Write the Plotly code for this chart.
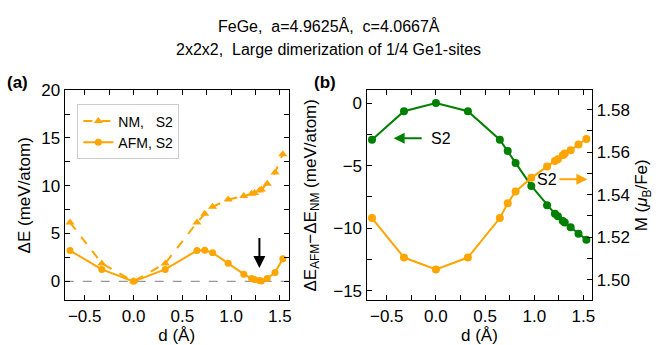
import plotly.graph_objects as go

# ---------------- data ----------------
d = [-0.65, -0.325, 0.0, 0.325, 0.65, 0.73, 0.81, 0.97, 1.13, 1.21, 1.24, 1.29, 1.31, 1.37, 1.45, 1.53]
dE_NM = [6.15, 1.88, 0.0, 1.88, 6.15, 7.07, 7.8, 8.55, 8.92, 9.15, 9.25, 9.5, 9.6, 10.22, 11.38, 13.3]
dE_AFM = [3.22, 1.25, 0.0, 1.25, 3.22, 3.25, 3.0, 1.9, 0.75, 0.3, 0.2, 0.08, 0.05, 0.3, 0.92, 2.37]
dE_diff = [-2.93, -0.65, 0.0, -0.65, -2.93, -3.82, -4.78, -6.62, -8.17, -8.85, -9.05, -9.42, -9.55, -9.92, -10.45, -10.93]
M_AFM = [1.529, 1.5104, 1.5048, 1.5104, 1.529, 1.536, 1.5415, 1.5479, 1.5532, 1.5558, 1.5567, 1.5586, 1.5594, 1.5609, 1.5636, 1.5662]

title_lines = ["FeGe,\u00a0 a=4.9625Å,\u00a0 c=4.0667Å", "2x2x2,\u00a0 Large dimerization of 1/4 Ge1-sites"]
x_ticks = [-0.5, 0.0, 0.5, 1.0, 1.5]
x_ticktext = ["\u22120.5", "0.0", "0.5", "1.0", "1.5"]
ya_ticks = [0, 5, 10, 15, 20]
yb_ticks = [0, -5, -10, -15]
yb_ticktext = ["0", "\u22125", "\u221210", "\u221215"]
m_ticks = [1.50, 1.52, 1.54, 1.56, 1.58]
m_ticktext = ["1.50", "1.52", "1.54", "1.56", "1.58"]

ORANGE = "#FFA500"
GREEN = "#008000"
FONT = "Liberation Sans, Arial, Helvetica, sans-serif"
TICK = 17
TITLE = 17

fig = go.Figure()

# panel (a)
fig.add_trace(go.Scatter(x=d, y=dE_NM, mode="lines+markers", name="NM,\u00a0\u00a0\u00a0S2",
                         line=dict(color=ORANGE, width=2, dash="dash"),
                         marker=dict(symbol="triangle-up", size=8, color=ORANGE),
                         xaxis="x", yaxis="y"))
fig.add_trace(go.Scatter(x=d, y=dE_AFM, mode="lines+markers", name="AFM, S2",
                         line=dict(color=ORANGE, width=2),
                         marker=dict(symbol="circle", size=7, color=ORANGE),
                         xaxis="x", yaxis="y"))
# panel (b)
fig.add_trace(go.Scatter(x=d, y=dE_diff, mode="lines+markers", showlegend=False,
                         line=dict(color=GREEN, width=2),
                         marker=dict(symbol="circle", size=8, color=GREEN),
                         xaxis="x2", yaxis="y2"))
fig.add_trace(go.Scatter(x=d, y=M_AFM, mode="lines+markers", showlegend=False,
                         line=dict(color=ORANGE, width=2),
                         marker=dict(symbol="circle", size=8, color=ORANGE),
                         xaxis="x2", yaxis="y3"))

xr = [-0.705, 1.59]
ydom = [0.1325, 0.7586]
axis_common = dict(showline=True, linecolor="black", linewidth=1.3, ticks="inside",
                   ticklen=5, tickwidth=1.2, tickcolor="black", showgrid=False, zeroline=False,
                   tickfont=dict(size=TICK, color="black", family=FONT))

fig.update_layout(
    width=660, height=345,
    margin=dict(l=0, r=0, t=0, b=0),
    paper_bgcolor="white", plot_bgcolor="white",
    font=dict(family=FONT, color="black", size=15),
    xaxis=dict(domain=[0.0985, 0.4394], range=xr, anchor="y", mirror="allticks",
               tickvals=x_ticks, ticktext=x_ticktext,
               minor=dict(dtick=0.25, tick0=0, ticks="inside", ticklen=5, tickcolor="black"),
               title=dict(text="d (Å)", font=dict(size=TITLE), standoff=2), **axis_common),
    yaxis=dict(domain=ydom, range=[-2, 20], anchor="x", mirror="allticks",
               tickvals=ya_ticks,
               minor=dict(dtick=2.5, tick0=0, ticks="inside", ticklen=5, tickcolor="black"),
               title=dict(text="ΔE (meV/atom)", font=dict(size=TITLE), standoff=6), **axis_common),
    xaxis2=dict(domain=[0.558, 0.9015], range=xr, anchor="y2", mirror="allticks",
                tickvals=x_ticks, ticktext=x_ticktext,
                minor=dict(dtick=0.25, tick0=0, ticks="inside", ticklen=5, tickcolor="black"),
                title=dict(text="d (Å)", font=dict(size=TITLE), standoff=2), **axis_common),
    yaxis2=dict(domain=ydom, range=[-15.78, 1.04], anchor="x2",
                tickvals=yb_ticks, ticktext=yb_ticktext,
                minor=dict(dtick=2.5, tick0=0, ticks="inside", ticklen=5, tickcolor="black"),
                title=dict(text="ΔE<sub>AFM</sub>−ΔE<sub>NM</sub> (meV/atom)", font=dict(size=TITLE), standoff=12),
                **axis_common),
    yaxis3=dict(domain=ydom, range=[1.4902, 1.5892], anchor="x2", overlaying="y2", side="right",
                tickvals=m_ticks, ticktext=m_ticktext,
                minor=dict(dtick=0.01, tick0=1.5, ticks="inside", ticklen=5, tickcolor="black"),
                title=dict(text="M (<i>μ</i><sub>B</sub>/Fe)", font=dict(size=TITLE), standoff=6),
                **axis_common),
    legend=dict(x=0.1177, y=1 - 98 / 345, xanchor="left", yanchor="top", bgcolor="white",
                bordercolor="#cccccc", borderwidth=1, font=dict(size=14),
                tracegroupgap=0, itemwidth=30),
    showlegend=True,
)

# dashed zero line in panel (a)
fig.add_shape(type="line", xref="x domain", x0=0, x1=1, yref="y", y0=0, y1=0,
              line=dict(color="#999999", width=1.2, dash="dash"), layer="below")

annotations = [
    dict(text=title_lines[0], x=0.5, y=17, showarrow=False, font=dict(size=16)),
    dict(text=title_lines[1], x=0.5, y=42, showarrow=False, font=dict(size=16)),
    dict(text="<b>(a)</b>", x=5 / 660, y=75, showarrow=False, font=dict(size=17), xanchor="left"),
    dict(text="<b>(b)</b>", x=313 / 660, y=75, showarrow=False, font=dict(size=17), xanchor="left"),
]
for a in annotations:
    a["xref"] = "paper"; a["yref"] = "paper"
    a["y"] = 1 - a["y"] / 345
    a["yanchor"] = "middle"

annotations += [
    # black arrow in (a)
    dict(x=1.29, y=1.4, ax=1.29, ay=4.7, xref="x", yref="y", axref="x", ayref="y",
         text="", showarrow=True, arrowhead=2, arrowsize=1.2, arrowwidth=2, arrowcolor="black"),
    # green arrow and label in (b)
    dict(x=-0.43, y=-2.8, ax=-0.13, ay=-2.8, xref="x2", yref="y2", axref="x2", ayref="y2",
         text="", showarrow=True, arrowhead=2, arrowsize=1.1, arrowwidth=2, arrowcolor=GREEN),
    dict(x=0.05, y=-2.8, xref="x2", yref="y2", text="S2", showarrow=False, font=dict(size=16)),
    # orange arrow and label in (b)
    dict(x=1.54, y=1.5472, ax=1.24, ay=1.5472, xref="x2", yref="y3", axref="x2", ayref="y3",
         text="", showarrow=True, arrowhead=2, arrowsize=1.1, arrowwidth=2, arrowcolor=ORANGE),
    dict(x=1.13, y=1.5472, xref="x2", yref="y3", text="S2", showarrow=False, font=dict(size=16)),
]
fig.update_layout(annotations=annotations)

fig.write_html("out.html")
